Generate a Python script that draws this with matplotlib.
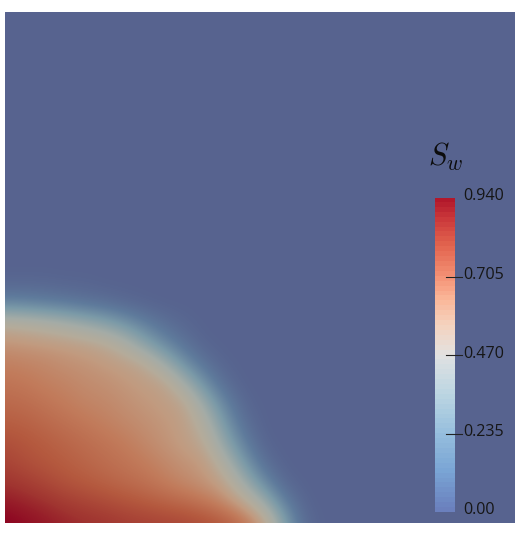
import numpy as np
import matplotlib
matplotlib.use("Agg")
import matplotlib.pyplot as plt
from matplotlib.colors import LinearSegmentedColormap, ListedColormap

W, H = 523, 534
# plot domain in reference pixels
x_cols = [5, 25, 45, 65, 85, 105, 125, 145, 165, 185, 205, 225, 245, 265, 285, 305, 325]
y_rows = [523, 503, 483, 463, 443, 423, 403, 383, 363, 343, 323, 303, 283, 263]
saturation = [
 [.94,.92,.90,.88,.86,.85,.83,.82,.81,.80,.78,.75,.69,.58,.28,.04,0],
 [.90,.88,.86,.83,.81,.79,.77,.75,.73,.71,.68,.63,.55,.38,.14,.01,0],
 [.85,.83,.80,.77,.75,.73,.71,.69,.66,.63,.60,.55,.38,.18,.03,0,0],
 [.81,.78,.76,.74,.72,.70,.68,.66,.63,.60,.58,.45,.24,.06,0,0,0],
 [.78,.76,.74,.72,.70,.68,.66,.63,.60,.57,.52,.33,.13,.01,0,0,0],
 [.74,.73,.71,.69,.67,.65,.63,.61,.59,.56,.46,.24,.06,0,0,0,0],
 [.71,.70,.68,.66,.64,.63,.61,.59,.57,.54,.36,.15,.02,0,0,0,0],
 [.68,.67,.65,.64,.62,.61,.59,.57,.55,.40,.20,.05,0,0,0,0,0],
 [.65,.64,.63,.61,.60,.58,.56,.52,.38,.20,.07,.01,0,0,0,0,0],
 [.60,.59,.58,.57,.55,.52,.44,.30,.17,.07,.01,0,0,0,0,0,0],
 [.50,.48,.45,.41,.36,.30,.22,.13,.06,.02,0,0,0,0,0,0,0],
 [.16,.15,.13,.11,.08,.06,.03,.01,0,0,0,0,0,0,0,0,0],
 [.02,.02,.02,.01,.01,0,0,0,0,0,0,0,0,0,0,0,0],
 [0,0,0,0,0,0,0,0,0,0,0,0,0,0,0,0,0],
]
vmin, vmax = 0.0, 0.94
bar_ticks = [0.235, 0.47, 0.705]
bar_labels = ["0.00", "0.235", "0.470", "0.705", "0.940"]

# field colours (shaded), bar colours (unshaded)
field_stops = [(0, "#57638f"), (.12, "#5f7b9c"), (.25, "#7b9aa8"), (.40, "#a5aca6"), (.50, "#b5ab9a"),
               (.58, "#c19b80"), (.66, "#c27c5c"), (.75, "#b55a3f"), (.85, "#a03430"), (.94, "#8b0020")]
bar_stops = [(0, "#6b80bd"), (.12, "#7ba6d6"), (.235, "#98c0de"), (.35, "#bcd6e2"), (.47, "#e2e2e2"),
             (.56, "#f5d3bf"), (.64, "#fbb597"), (.705, "#f59377"), (.80, "#e3654f"), (.88, "#cc3a3c"), (.94, "#b2182b")]
norm = lambda stops: [(v / vmax, c) for v, c in stops]
field_cmap = LinearSegmentedColormap.from_list("field", norm(field_stops), N=512)
bar_base = LinearSegmentedColormap.from_list("bar", norm(bar_stops), N=256)
bar_cmap = ListedColormap(bar_base(np.linspace(0, 1, 64)))

plt.rcParams["font.family"] = ["Open Sans", "DejaVu Sans"]
plt.rcParams["mathtext.fontset"] = "cm"
fig = plt.figure(figsize=(W / 100, H / 100), dpi=100, facecolor="white")
rect = [5 / W, 1 - 523 / H, 510 / W, 511 / H]
ax = fig.add_axes(rect, zorder=1)
ax.set_axis_off()
ax.add_patch(plt.Rectangle((5, 12), 510, 511, color="#57638f", zorder=0))
ax.imshow(np.array(saturation), extent=(x_cols[0] - 10, x_cols[-1] + 10, y_rows[0] + 10, y_rows[-1] - 10),
          origin="lower", cmap=field_cmap, vmin=vmin, vmax=vmax, interpolation="bicubic", aspect="auto", zorder=1)
ax.set_xlim(5, 515)
ax.set_ylim(523, 12)

cax = fig.add_axes([435 / W, 1 - 512.5 / H, 19 / W, 314.5 / H], zorder=2)
cax.imshow(np.linspace(vmin, vmax, 64)[:, None], origin="lower", aspect="auto", cmap=bar_cmap,
           vmin=vmin, vmax=vmax, extent=(0, 1, vmin, vmax), interpolation="nearest")
cax.set_axis_off()

ov = fig.add_axes(rect, zorder=3)
ov.set_axis_off()
ov.set_xlim(5, 515)
ov.set_ylim(523, 12)
to_y = lambda v: 512.5 - v / vmax * 314.5
for v in bar_ticks:
    ov.plot([446, 462], [to_y(v)] * 2, color="#222222", lw=0.8)
label_y = [509.5, 432.5, 353.5, 275, 196.5]
for y, s in zip(label_y, bar_labels):
    ov.text(463.5, y, s, color="#161616", fontsize=11.6, va="center", ha="left")
ov.text(428, 157, r"$S_w$", fontsize=22, color="#0c0c0c", va="center", ha="left")

fig.savefig("out.png", dpi=100, facecolor="white")
